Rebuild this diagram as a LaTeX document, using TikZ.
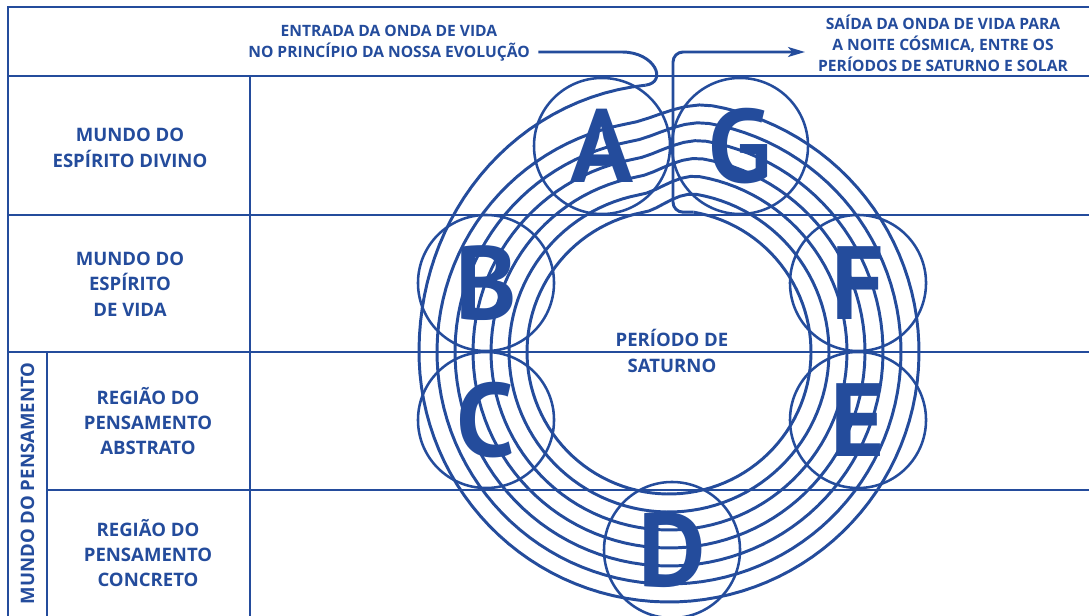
\documentclass[tikz,border=0pt]{standalone}
\usepackage{fontspec}
\setmainfont{Open Sans}
\newfontfamily\orbfont{PT Sans}
\usetikzlibrary{arrows.meta}

\begin{document}
\begin{tikzpicture}[x=0.025cm, y=-0.025cm,
    declare function={
        wk(\x)=floor((\x+10)/360);
        wf(\x)=\x+10-360*wk(\x);
        ws(\x)=min(1,wf(\x)/20);
        wst(\x)=max(ws(\x)*ws(\x)*(3-2*ws(\x)),1-min(wk(\x),1));
        wq(\x)=min(1,\x/90);
        wr(\x)=250-18*(wk(\x)-1+wst(\x))+18*(1-wq(\x)*wq(\x)*(3-2*wq(\x)));
    },
    frame/.style={draw=rosablue, line width=2pt},
    grid/.style={draw=rosablue, line width=1.3pt},
    wave/.style={draw=rosablue, line width=2.1pt, line join=round},
    label/.style={text=rosablue, font=\fontsize{13.2}{18}\selectfont\bfseries, align=center, inner sep=0pt},
    note/.style={text=rosablue, font=\fontsize{11.1}{15}\selectfont\bfseries, inner sep=0pt},
    orb/.style={circle, draw=rosablue, line width=1.8pt, minimum size=3.4cm, inner sep=0pt,
        text=rosablue, font=\orbfont\fontsize{74}{74}\selectfont\bfseries, text height=52pt, text depth=0pt}]

    % Colour of the whole chart
    \definecolor{rosablue}{RGB}{36,76,156}

    \useasboundingbox (0,0) rectangle (1089,616);

    % Table
    \draw[frame] (8,616) -- (8,7) -- (1089,7);
    \draw[grid] (8,76) -- (1089,76);
    \draw[grid] (8,215) -- (1089,215);
    \draw[grid] (8,352) -- (1089,352);
    \draw[grid] (47,490) -- (1089,490);
    \draw[grid] (250,76) -- (250,616);
    \draw[grid] (47,352) -- (47,616);

    % Worlds
    \node[label] (divino) at (130,148) {MUNDO DO\\ESPÍRITO DIVINO};
    \node[label] (vida) at (130,284) {MUNDO DO\\ESPÍRITO\\DE VIDA};
    \node[label] (abstrato) at (148,421) {REGIÃO DO\\PENSAMENTO\\ABSTRATO};
    \node[label] (concreto) at (148,553) {REGIÃO DO\\PENSAMENTO\\CONCRETO};
    \node[label, rotate=90] (pensamento) at (27.5,483.5) {MUNDO DO PENSAMENTO};

    % Life wave
    \draw[wave] plot[domain=5:2510, samples=836] ({669-wr(\x)*sin(\x)}, {352-wr(\x)*cos(\x)});
    \coordinate (wavein) at ({669-wr(5)*sin(5)}, {352-wr(5)*cos(5)});
    \coordinate (waveout) at ({669-wr(2510)*sin(2510)}, {352-wr(2510)*cos(2510)});

    % Globes
    \node[orb] (orbA) at (602,146) {A};
    \node[orb] (orbB) at (486,283) {B};
    \node[orb] (orbC) at (486,420) {C};
    \node[orb] (orbD) at (672,550) {D};
    \node[orb] (orbE) at (858,420) {E};
    \node[orb] (orbF) at (858,283) {F};
    \node[orb] (orbG) at (740,146) {G};

    \node[label, font=\fontsize{13.2}{19}\selectfont\bfseries] (saturno) at (672,351) {PERÍODO DE\\SATURNO};

    % Entry and exit
    \node[note, text height=8.1pt, text depth=0pt] (entrada) at (389,31) {ENTRADA DA ONDA DE VIDA};
    \node[note, text height=8.1pt, text depth=0pt] (evolucao) at (389,52) {NO PRINCÍPIO DA NOSSA EVOLUÇÃO};
    \node[note, align=center] (saida) at (943,43.5) {SAÍDA DA ONDA DE VIDA PARA\\A NOITE CÓSMICA, ENTRE OS\\PERÍODOS DE SATURNO E SOLAR};
    \coordinate (rise) at (673,52);
    \coordinate (tip) at (805,52);

    \draw[wave] ([xshift=6pt]evolucao.east) -- (622,52) .. controls (655,52) and (668,82) .. (wavein);
    \draw[wave, rounded corners=0.25cm, -{Stealth[length=12pt,width=7pt,inset=3pt]}]
        (waveout) -- (waveout -| rise) -- (rise) -- (tip);

\end{tikzpicture}
\end{document}
